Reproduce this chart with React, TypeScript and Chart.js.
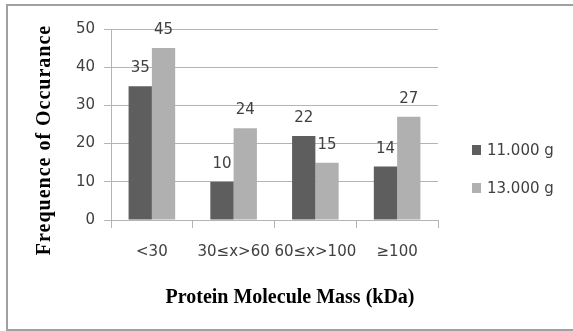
import React, { useEffect, useRef } from "react";
import { Chart, registerables } from "chart.js";

Chart.register(...registerables);

const categories = ["<30", "30≤x>60", "60≤x>100", "≥100"];
const series11000 = [35, 10, 22, 14];
const series13000 = [45, 24, 15, 27];
const seriesNames = ["11.000 g", "13.000 g"];
const seriesColors = ["#5e5e5e", "#b0b0b0"];
const yTicks = [0, 10, 20, 30, 40, 50];
const xTitle = "Protein Molecule Mass (kDa)";
const yTitle = "Frequence of Occurance";

const TICK_FONT = "'DejaVu Sans', sans-serif";
const TEXT_COLOR = "#404040";
const GRID_COLOR = "#b4b4b4";

const framePlugin = {
  id: "frame",
  beforeDraw(chart: any) {
    const ctx = chart.ctx;
    ctx.save();
    ctx.fillStyle = "#ffffff";
    ctx.fillRect(0, 0, chart.width, chart.height);
    ctx.strokeStyle = "#a0a0a0";
    ctx.lineWidth = 2;
    ctx.strokeRect(7, 5, 575, 325);
    ctx.restore();
  },
};

const valueLabelPlugin = {
  id: "valueLabels",
  afterDatasetsDraw(chart: any) {
    const ctx = chart.ctx;
    ctx.save();
    ctx.font = `15px ${TICK_FONT}`;
    ctx.fillStyle = TEXT_COLOR;
    ctx.textAlign = "center";
    ctx.textBaseline = "alphabetic";
    chart.data.datasets.forEach((ds: any, di: number) => {
      const meta = chart.getDatasetMeta(di);
      meta.data.forEach((bar: any, i: number) => {
        ctx.fillText(String(ds.data[i]), bar.x, bar.y - 14);
      });
    });
    ctx.restore();
  },
};

const legendTitlePlugin = {
  id: "legendTitles",
  afterDraw(chart: any) {
    const ctx = chart.ctx;
    ctx.save();
    // legend
    ctx.font = `15px ${TICK_FONT}`;
    ctx.textBaseline = "middle";
    ctx.textAlign = "left";
    chart.data.datasets.forEach((ds: any, di: number) => {
      const cy = 150 + di * 38;
      ctx.fillStyle = ds.backgroundColor;
      ctx.fillRect(472, cy - 5, 9, 10);
      ctx.fillStyle = TEXT_COLOR;
      ctx.fillText(ds.label, 487, cy + 1);
    });
    // x title
    ctx.fillStyle = "#000000";
    ctx.font = "bold 20px 'Liberation Serif', serif";
    ctx.textAlign = "center";
    ctx.textBaseline = "middle";
    ctx.fillText(xTitle, 290, 298);
    // y title
    ctx.translate(45, 140);
    ctx.rotate(-Math.PI / 2);
    ctx.font = "bold 20px 'Liberation Serif', serif";
    (ctx as any).letterSpacing = "1px";
    ctx.fillText(yTitle, 0, 0);
    ctx.restore();
  },
};

export default function App() {
  const ref = useRef<HTMLCanvasElement | null>(null);
  useEffect(() => {
    if (!ref.current) return;
    const chart = new Chart(ref.current, {
      type: "bar",
      data: {
        labels: categories,
        datasets: [
          {
            label: seriesNames[0],
            data: series11000,
            backgroundColor: seriesColors[0],
            borderWidth: 0,
            categoryPercentage: 0.57,
            barPercentage: 1,
          },
          {
            label: seriesNames[1],
            data: series13000,
            backgroundColor: seriesColors[1],
            borderWidth: 0,
            categoryPercentage: 0.57,
            barPercentage: 1,
          },
        ],
      },
      options: {
        animation: false,
        responsive: false,
        devicePixelRatio: 1,
        layout: { padding: { left: 0, top: 29, right: 135, bottom: 0 } },
        plugins: {
          legend: { display: false },
          tooltip: { enabled: false },
        },
        scales: {
          x: {
            offset: true,
            grid: {
              offset: true,
              drawOnChartArea: false,
              drawTicks: true,
              tickLength: 8,
              color: GRID_COLOR,
            },
            border: { color: GRID_COLOR, width: 1 },
            ticks: {
              color: TEXT_COLOR,
              font: { family: TICK_FONT, size: 15 },
              padding: 15,
              maxRotation: 0,
              autoSkip: false,
            },
            afterFit(scale: any) {
              scale.height = 111;
            },
          },
          y: {
            min: yTicks[0],
            max: yTicks[yTicks.length - 1],
            afterBuildTicks(scale: any) {
              scale.ticks = yTicks.map((v) => ({ value: v }));
            },
            grid: {
              color: GRID_COLOR,
              tickLength: 7,
              lineWidth: 1,
            },
            border: { color: GRID_COLOR, width: 1 },
            ticks: {
              color: TEXT_COLOR,
              font: { family: TICK_FONT, size: 15 },
              padding: 9,
            },
            afterFit(scale: any) {
              scale.width = 111;
            },
          },
        },
      },
      plugins: [framePlugin, valueLabelPlugin, legendTitlePlugin],
    });
    return () => chart.destroy();
  }, []);

  return (
    <div style={{ position: "absolute", left: 0, top: 0, width: 573, height: 331 }}>
      <canvas ref={ref} width={573} height={331} />
    </div>
  );
}
